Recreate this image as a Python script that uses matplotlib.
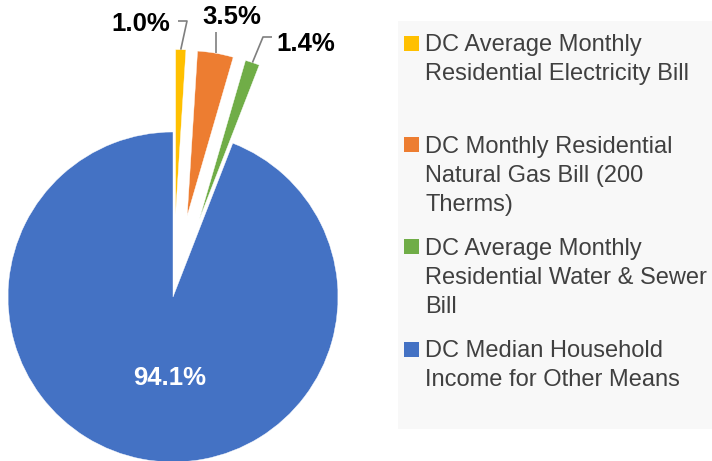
import matplotlib.pyplot as plt
import matplotlib.patches as mpatches
import numpy as np

plt.rcParams['font.family'] = ['Liberation Sans', 'DejaVu Sans']

labels = ['DC Average Monthly\nResidential Electricity Bill',
          'DC Monthly Residential\nNatural Gas Bill (200\nTherms)',
          'DC Average Monthly\nResidential Water & Sewer\nBill',
          'DC Median Household\nIncome for Other Means']
shares = [1.0, 3.5, 1.4, 94.1]
colors = ['#FFC000', '#ED7D31', '#70AD47', '#4472C4']
explode = [0.5, 0.5, 0.5, 0.0]

W, H = 712, 461
R = 165.0          # pie radius in pixels
CX, CY = 173, 297  # pie centre in pixels (from top)

def d(x, y):
    # pixel (from top-left) -> data coords, 1 unit = pie radius
    return (x - CX) / R, (CY - y) / R

def f(x, y):
    return x / W, 1 - y / H

fig = plt.figure(figsize=(W / 100, H / 100), dpi=100)
ax = fig.add_axes([0, 0, 1, 1])

wedges, _ = ax.pie(shares, colors=colors, explode=explode, startangle=90,
                   counterclock=False, radius=1,
                   wedgeprops=dict(linewidth=0.3, edgecolor='white'))
ax.set_xlim(-CX / R, (W - CX) / R)
ax.set_ylim(-(H - CY) / R, CY / R)
ax.set_aspect('auto')
ax.axis('off')

# label layout: (elbow point, end point, label centre) in pixels
label_layout = [
    ([(187, 21), (178, 21)], (141, 24)),
    ([(None, 32)], (232, 17)),
    ([(263, 37), (272, 37)], (306, 44)),
]

for i, (w, (pts, lab)) in enumerate(zip(wedges[:3], label_layout)):
    ang = np.deg2rad((w.theta1 + w.theta2) / 2)
    sx = w.center[0] + np.cos(ang)
    sy = w.center[1] + np.sin(ang)
    xs, ys = [sx], [sy]
    for px, py in pts:
        dx, dy = d(px if px is not None else 0, py)
        xs.append(sx if px is None else dx)
        ys.append(dy)
    ax.plot(xs, ys, color='#7f7f7f', lw=1.2, solid_capstyle='butt')
    lx, ly = d(*lab)
    ax.text(lx, ly, f'{shares[i]:.1f}%', ha='center', va='center',
            fontsize=18.5, fontweight='bold', color='black')

# big slice label
ax.text(*d(170, 378), f'{shares[3]:.1f}%', ha='center', va='center',
        fontsize=18.5, fontweight='bold', color='white')

# legend
fig.patches.append(mpatches.Rectangle(f(398, 429), (W - 398) / W, (429 - 21) / H,
                                      transform=fig.transFigure, facecolor='#f8f8f8',
                                      edgecolor='none', zorder=0))
for i, (lab, c) in enumerate(zip(labels, colors)):
    top = 34 + i * 102
    fig.patches.append(mpatches.Rectangle(f(404, top + 16.5), 15 / W, 15 / H,
                                          transform=fig.transFigure, facecolor=c,
                                          edgecolor='none', zorder=1))
    fig.text(*f(425, top), lab, ha='left', va='top', fontsize=17,
             color='#404040', linespacing=1.4)

fig.savefig('out.png', dpi=100)
